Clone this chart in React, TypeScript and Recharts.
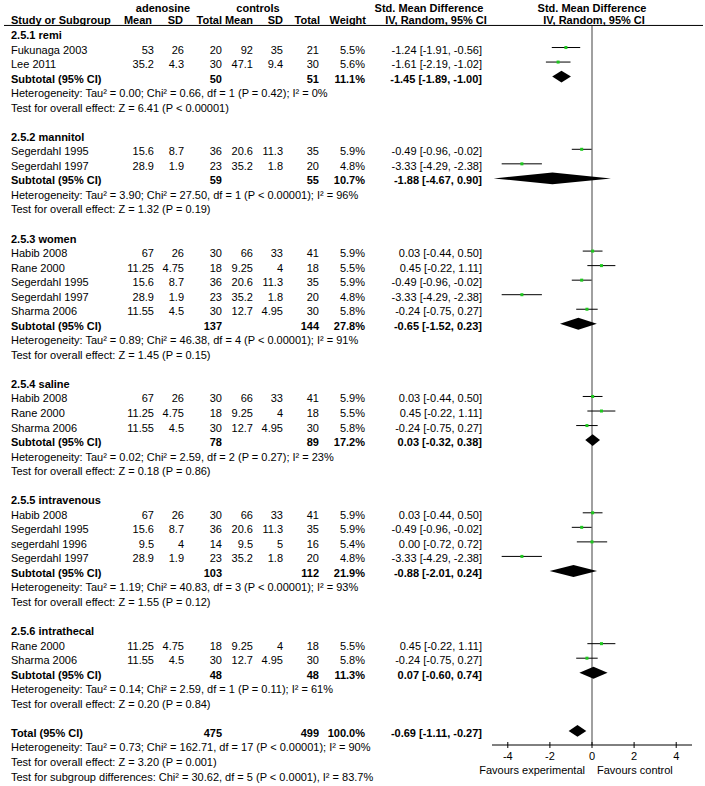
import React from 'react';
import { ComposedChart, XAxis, YAxis, Scatter, ErrorBar, ReferenceLine } from 'recharts';

const FONT = '"Liberation Sans", Arial, Helvetica, sans-serif';

// ---------- data ----------
const groupTitles = [
  '2.5.1 remi',
  '2.5.2 mannitol',
  '2.5.3 women',
  '2.5.4 saline',
  '2.5.5 intravenous',
  '2.5.6 intrathecal',
];

// [study, mean adenosine, SD, total, mean controls, SD, total, weight %, SMD, lower, upper]
const remiStudies = [
  ['Fukunaga 2003', 53, 26, 20, 92, 35, 21, 5.5, -1.24, -1.91, -0.56],
  ['Lee 2011', 35.2, 4.3, 30, 47.1, 9.4, 30, 5.6, -1.61, -2.19, -1.02],
];
const mannitolStudies = [
  ['Segerdahl 1995', 15.6, 8.7, 36, 20.6, 11.3, 35, 5.9, -0.49, -0.96, -0.02],
  ['Segerdahl 1997', 28.9, 1.9, 23, 35.2, 1.8, 20, 4.8, -3.33, -4.29, -2.38],
];
const womenStudies = [
  ['Habib 2008', 67, 26, 30, 66, 33, 41, 5.9, 0.03, -0.44, 0.5],
  ['Rane 2000', 11.25, 4.75, 18, 9.25, 4, 18, 5.5, 0.45, -0.22, 1.11],
  ['Segerdahl 1995', 15.6, 8.7, 36, 20.6, 11.3, 35, 5.9, -0.49, -0.96, -0.02],
  ['Segerdahl 1997', 28.9, 1.9, 23, 35.2, 1.8, 20, 4.8, -3.33, -4.29, -2.38],
  ['Sharma 2006', 11.55, 4.5, 30, 12.7, 4.95, 30, 5.8, -0.24, -0.75, 0.27],
];
const salineStudies = [
  ['Habib 2008', 67, 26, 30, 66, 33, 41, 5.9, 0.03, -0.44, 0.5],
  ['Rane 2000', 11.25, 4.75, 18, 9.25, 4, 18, 5.5, 0.45, -0.22, 1.11],
  ['Sharma 2006', 11.55, 4.5, 30, 12.7, 4.95, 30, 5.8, -0.24, -0.75, 0.27],
];
const intravenousStudies = [
  ['Habib 2008', 67, 26, 30, 66, 33, 41, 5.9, 0.03, -0.44, 0.5],
  ['Segerdahl 1995', 15.6, 8.7, 36, 20.6, 11.3, 35, 5.9, -0.49, -0.96, -0.02],
  ['segerdahl 1996', 9.5, 4, 14, 9.5, 5, 16, 5.4, 0.0, -0.72, 0.72],
  ['Segerdahl 1997', 28.9, 1.9, 23, 35.2, 1.8, 20, 4.8, -3.33, -4.29, -2.38],
];
const intrathecalStudies = [
  ['Rane 2000', 11.25, 4.75, 18, 9.25, 4, 18, 5.5, 0.45, -0.22, 1.11],
  ['Sharma 2006', 11.55, 4.5, 30, 12.7, 4.95, 30, 5.8, -0.24, -0.75, 0.27],
];

// [total adenosine, total controls, weight %, SMD, lower, upper]
const subtotals = [
  [50, 51, 11.1, -1.45, -1.89, -1.0],
  [59, 55, 10.7, -1.88, -4.67, 0.9],
  [137, 144, 27.8, -0.65, -1.52, 0.23],
  [78, 89, 17.2, 0.03, -0.32, 0.38],
  [103, 112, 21.9, -0.88, -2.01, 0.24],
  [48, 48, 11.3, 0.07, -0.6, 0.74],
];
const heterogeneity = [
  'Heterogeneity: Tau² = 0.00; Chi² = 0.66, df = 1 (P = 0.42); I² = 0%',
  'Heterogeneity: Tau² = 3.90; Chi² = 27.50, df = 1 (P < 0.00001); I² = 96%',
  'Heterogeneity: Tau² = 0.89; Chi² = 46.38, df = 4 (P < 0.00001); I² = 91%',
  'Heterogeneity: Tau² = 0.02; Chi² = 2.59, df = 2 (P = 0.27); I² = 23%',
  'Heterogeneity: Tau² = 1.19; Chi² = 40.83, df = 3 (P < 0.00001); I² = 93%',
  'Heterogeneity: Tau² = 0.14; Chi² = 2.59, df = 1 (P = 0.11); I² = 61%',
];
const overallEffect = [
  'Test for overall effect: Z = 6.41 (P < 0.00001)',
  'Test for overall effect: Z = 1.32 (P = 0.19)',
  'Test for overall effect: Z = 1.45 (P = 0.15)',
  'Test for overall effect: Z = 0.18 (P = 0.86)',
  'Test for overall effect: Z = 1.55 (P = 0.12)',
  'Test for overall effect: Z = 0.20 (P = 0.84)',
];
const totalRow = [475, 499, 100.0, -0.69, -1.11, -0.27];
const totalNotes = [
  'Heterogeneity: Tau² = 0.73; Chi² = 162.71, df = 17 (P < 0.00001); I² = 90%',
  'Test for overall effect: Z = 3.20 (P = 0.001)',
  'Test for subgroup differences: Chi² = 30.62, df = 5 (P < 0.0001), I² = 83.7%',
];
const xTicks = [-4, -2, 0, 2, 4];

// ---------- build rows ----------
const groups = [remiStudies, mannitolStudies, womenStudies, salineStudies, intravenousStudies, intrathecalStudies];

type Row = { r: number; kind: string; text?: string; s?: any[]; t?: number[] };
const rows: Row[] = [];
rows.push({ r: -2, kind: 'head1' });
rows.push({ r: -1, kind: 'head2' });
let rr = 0;
groups.forEach((studies, g) => {
  rows.push({ r: rr++, kind: 'group', text: groupTitles[g] });
  studies.forEach((s) => rows.push({ r: rr++, kind: 'study', s }));
  rows.push({ r: rr++, kind: 'subtotal', text: 'Subtotal (95% CI)', t: subtotals[g] });
  rows.push({ r: rr++, kind: 'note', text: heterogeneity[g] });
  rows.push({ r: rr++, kind: 'note', text: overallEffect[g] });
  rr++;
});
rows.push({ r: rr++, kind: 'subtotal', text: 'Total (95% CI)', t: totalRow });
totalNotes.forEach((n) => rows.push({ r: rr++, kind: 'note', text: n }));

const rowByIndex = new Map<number, Row>();
rows.forEach((row) => rowByIndex.set(row.r, row));
const yTicks = rows.map((row) => row.r);

const studyPoints = rows
  .filter((row) => row.kind === 'study')
  .map((row) => {
    const s = row.s as any[];
    return { x: s[8], y: row.r, err: [s[8] - s[9], s[10] - s[8]] };
  });

const DIAMOND_HALF = 0.41;
const diamondPoints: { x: number; y: number }[] = [];
rows
  .filter((row) => row.kind === 'subtotal')
  .forEach((row) => {
    const t = row.t as number[];
    diamondPoints.push({ x: t[4], y: row.r });
    diamondPoints.push({ x: t[3], y: row.r - DIAMOND_HALF });
    diamondPoints.push({ x: t[5], y: row.r });
    diamondPoints.push({ x: t[3], y: row.r + DIAMOND_HALF });
  });

// ---------- rendering helpers ----------
const f2 = (v: number) => v.toFixed(2);
const ciText = (e: number, l: number, h: number) => `${f2(e)} [${f2(l)}, ${f2(h)}]`;

const COL = { name: 11, m1: 154, sd1: 184, n1: 222, m2: 253, sd2: 283, n2: 319, w: 365, ci: 482 };

function Txt(props: { x: number; y: number; anchor?: string; bold?: boolean; size?: number; children: any }) {
  return (
    <text
      x={props.x}
      y={props.y}
      textAnchor={props.anchor || 'end'}
      fontWeight={props.bold ? 'bold' : 'normal'}
      fontSize={props.size || 11}
      fontFamily={FONT}
      fill="#000"
    >
      {props.children}
    </text>
  );
}

function RowTick(props: any) {
  const { y, payload } = props;
  const row = rowByIndex.get(payload.value);
  if (!row) return <g />;
  if (row.kind === 'head1') {
    const b = y + 8;
    return (
      <g>
        <Txt x={163} y={b} anchor="middle" bold>adenosine</Txt>
        <Txt x={258} y={b} anchor="middle" bold>controls</Txt>
        <Txt x={429} y={b} anchor="middle" bold>Std. Mean Difference</Txt>
        <Txt x={592} y={b} anchor="middle" bold>Std. Mean Difference</Txt>
      </g>
    );
  }
  if (row.kind === 'head2') {
    const b = y + 5.5;
    return (
      <g>
        <Txt x={COL.name} y={b} anchor="start" bold>Study or Subgroup</Txt>
        <Txt x={152} y={b} bold>Mean</Txt>
        <Txt x={183} y={b} bold>SD</Txt>
        <Txt x={222} y={b} bold>Total</Txt>
        <Txt x={253} y={b} bold>Mean</Txt>
        <Txt x={283} y={b} bold>SD</Txt>
        <Txt x={320} y={b} bold>Total</Txt>
        <Txt x={366} y={b} bold>Weight</Txt>
        <Txt x={436} y={b} anchor="middle" bold>IV, Random, 95% CI</Txt>
        <Txt x={594} y={b} anchor="middle" bold>IV, Random, 95% CI</Txt>
        <line x1={4} x2={703} y1={y + 7} y2={y + 7} stroke="#000" strokeWidth={1} />
      </g>
    );
  }
  const b = y + 6;
  if (row.kind === 'group') {
    return <g><Txt x={COL.name} y={b} anchor="start" bold>{row.text}</Txt></g>;
  }
  if (row.kind === 'note') {
    return <g><Txt x={COL.name} y={b} anchor="start">{row.text}</Txt></g>;
  }
  if (row.kind === 'study') {
    const s = row.s as any[];
    return (
      <g>
        <Txt x={COL.name} y={b} anchor="start">{s[0]}</Txt>
        <Txt x={COL.m1} y={b}>{String(s[1])}</Txt>
        <Txt x={COL.sd1} y={b}>{String(s[2])}</Txt>
        <Txt x={COL.n1} y={b}>{String(s[3])}</Txt>
        <Txt x={COL.m2} y={b}>{String(s[4])}</Txt>
        <Txt x={COL.sd2} y={b}>{String(s[5])}</Txt>
        <Txt x={COL.n2} y={b}>{String(s[6])}</Txt>
        <Txt x={COL.w} y={b}>{`${s[7].toFixed(1)}%`}</Txt>
        <Txt x={COL.ci} y={b}>{ciText(s[8], s[9], s[10])}</Txt>
      </g>
    );
  }
  if (row.kind === 'subtotal') {
    const t = row.t as number[];
    return (
      <g>
        <Txt x={COL.name} y={b} anchor="start" bold>{row.text}</Txt>
        <Txt x={COL.n1} y={b} bold>{String(t[0])}</Txt>
        <Txt x={COL.n2} y={b} bold>{String(t[1])}</Txt>
        <Txt x={COL.w} y={b} bold>{`${t[2].toFixed(1)}%`}</Txt>
        <Txt x={COL.ci} y={b} bold>{ciText(t[3], t[4], t[5])}</Txt>
      </g>
    );
  }
  return <g />;
}

function XTick(props: any) {
  const { x, y, payload } = props;
  return (
    <g>
      <line x1={x} x2={x} y1={y - 3} y2={y + 3} stroke="#000" strokeWidth={1} />
      <Txt x={x} y={y + 15} anchor="middle">{String(payload.value)}</Txt>
      {payload.value === 0 ? (
        <g>
          <Txt x={x - 7} y={y + 29} anchor="end">Favours experimental</Txt>
          <Txt x={x + 5} y={y + 29} anchor="start">Favours control</Txt>
        </g>
      ) : null}
    </g>
  );
}

const StudySquare = (props: any) => {
  const { cx, cy } = props;
  if (cx == null || cy == null) return <g />;
  return <rect x={cx - 1.5} y={cy - 1.5} width={3} height={3} fill="#1ec81e" />;
};

const DiamondPolygons = (props: any) => {
  const pts: { x: number; y: number }[] = props.points || [];
  const polys = [];
  for (let i = 0; i + 3 < pts.length; i += 4) {
    const p = pts.slice(i, i + 4).map((q) => `${q.x},${q.y}`).join(' ');
    polys.push(<polygon key={i} points={p} fill="#000" stroke="none" />);
  }
  return <g>{polys}</g>;
};

export default function App() {
  return (
    <div style={{ position: 'absolute', left: 0, top: 0, width: 705, height: 786, background: '#fff' }}>
      <ComposedChart
        width={705}
        height={786}
        margin={{ top: 26, right: 13, bottom: 21, left: 491 }}
        style={{ fontFamily: FONT }}
      >
        <XAxis
          type="number"
          dataKey="x"
          domain={[-4.75, 4.75]}
          ticks={xTicks}
          allowDataOverflow
          interval={0}
          height={20}
          tickSize={0}
          tickMargin={0}
          tickLine={false}
          axisLine={{ stroke: '#000', strokeWidth: 1 }}
          tick={(p: any) => <XTick {...p} />}
        />
        <YAxis
          type="number"
          dataKey="y"
          domain={[-0.48, 48.97]}
          reversed
          allowDataOverflow
          ticks={yTicks}
          interval={0}
          width={1}
          tickSize={0}
          tickMargin={0}
          axisLine={false}
          tickLine={false}
          tick={(p: any) => <RowTick {...p} />}
        />
        <ReferenceLine x={0} stroke="#808080" strokeWidth={1.5} ifOverflow="hidden" />
        <Scatter
          data={diamondPoints}
          isAnimationActive={false}
          fill="#000"
          shape={() => <g />}
          line={(p: any) => <DiamondPolygons {...p} />}
          lineType="joint"
        />
        <Scatter data={studyPoints} isAnimationActive={false} fill="#1ec81e" shape={(p: any) => <StudySquare {...p} />}>
          <ErrorBar dataKey="err" direction="x" width={0} stroke="#000" strokeWidth={1} />
        </Scatter>
      </ComposedChart>
    </div>
  );
}
